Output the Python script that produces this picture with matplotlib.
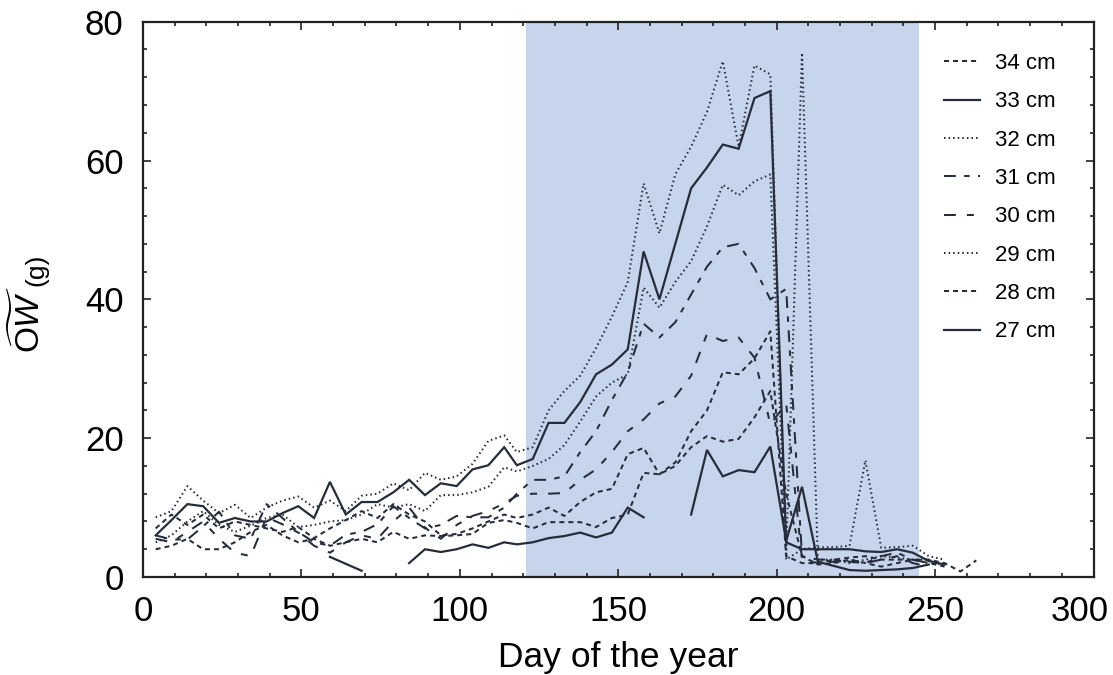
import numpy as np
import matplotlib
matplotlib.use("Agg")
import matplotlib.pyplot as plt
from matplotlib.ticker import MultipleLocator
from matplotlib.transforms import ScaledTranslation

nan = np.nan

# ---------------- data ----------------
days = [4, 9, 14, 19, 24, 29, 34, 39, 44, 49, 54, 59, 64, 69, 74, 79, 84, 89, 94, 99,
        104, 109, 114, 118, 123, 128, 133, 138, 143, 148, 153, 158, 163, 168, 173, 178,
        183, 188, 193, 198, 203, 208, 213, 218, 223, 228, 233, 238, 243, 248, 253, 258, 263]

ow_34 = [7.0, 9.0, 7.5, 9.0, 7.0, 8.0, 7.5, 7.0, 6.5, 7.2, 5.6, 7.0, 8.2, 9.5, 8.5, 10.5, 9.0, 8.0, 6.0, 6.2,
         7.0, 8.0, 9.0, 8.5, 9.0, 10.0, 8.8, 10.8, 12.2, 12.7, 17.7, 18.6, 14.8, 16.5, 21.0, 24.0,
         29.5, 29.2, 31.5, 35.4, 3.0, 2.0, 2.0, 2.5, 2.8, 3.0, 2.5, 2.5, 2.5, 2.5, 2.0, 0.8, 2.4]
ow_33 = [6.0, 8.2, 10.5, 10.2, 7.8, 8.5, 8.0, 8.0, 9.2, 10.2, 8.5, 13.7, 9.0, 10.8, 10.8, 12.2, 14.0, 11.8, 13.5, 13.1,
         15.5, 16.1, 18.7, 16.1, 17.0, 22.2, 22.2, 25.2, 29.2, 30.6, 32.8, 46.9, 40.0, 48.0, 56.0, 59.0,
         62.3, 61.7, 69.0, 70.0, 5.0, 4.0, 4.0, 4.0, 4.0, 3.7, 3.6, 4.0, 3.5, 2.3, 1.8, nan, nan]
ow_32 = [8.6, 9.5, 13.1, 11.0, 9.2, 10.4, 8.5, 10.0, 11.0, 11.6, 10.0, 11.0, 9.5, 11.7, 12.0, 13.5, 12.5, 15.0, 14.0, 14.5,
         16.3, 19.6, 20.4, 18.0, 18.7, 24.0, 26.8, 29.0, 33.0, 37.5, 42.5, 56.7, 49.5, 58.0, 62.0, 67.0,
         74.3, 62.0, 73.7, 72.4, 3.0, 75.5, 2.5, 2.5, 2.0, 2.5, 3.0, 2.8, 2.5, 2.5, 1.5, nan, nan]
ow_31 = [6.0, 5.4, 5.4, 7.3, 9.4, 6.0, 5.5, 10.5, 8.5, 6.5, 5.0, 4.5, 6.1, 6.5, 7.6, 10.2, 8.5, 7.0, 7.5, 8.8,
         8.6, 8.6, 10.0, 12.0, 14.0, 14.0, 14.5, 18.0, 21.0, 25.5, 29.5, 36.5, 34.5, 36.7, 40.7, 44.7,
         47.5, 48.0, 44.5, 40.0, 41.5, 3.0, 2.5, 2.5, 2.2, 2.0, 3.0, 3.5, 2.5, 2.0, 2.0, nan, nan]
ow_30 = [5.5, 5.0, 6.5, 8.0, 5.5, 3.5, 3.0, 8.6, 7.6, 6.4, 4.5, 3.5, 5.0, 6.0, 5.5, 8.0, 10.0, 7.1, 5.5, 7.5,
         8.8, 9.5, 10.6, 11.7, 12.0, 12.0, 12.1, 14.0, 15.5, 18.0, 21.0, 22.7, 25.0, 26.0, 29.0, 35.0,
         34.0, 34.5, 31.6, 22.0, 25.0, 2.5, 2.0, 2.2, 2.5, 2.0, 2.5, 3.0, 2.0, 1.5, nan, nan, nan]
ow_29 = [5.0, 6.0, 8.0, 9.5, 7.5, 6.5, 7.4, 8.5, 9.0, 7.2, 7.5, 8.0, 8.2, 9.0, 10.5, 10.0, 10.5, 9.5, 11.8, 11.8,
         12.2, 13.0, 15.8, 15.2, 16.0, 17.0, 19.0, 22.4, 26.0, 28.0, 29.2, 41.7, 38.8, 42.5, 45.5, 50.5,
         56.5, 55.0, 57.0, 58.0, 2.5, 4.0, 4.3, 4.3, 4.5, 16.8, 4.2, 4.3, 4.5, 3.0, 2.5, nan, nan]
ow_28 = [4.0, 4.5, 5.5, 4.0, 4.0, 5.0, 6.5, 7.5, 6.0, 5.0, 5.5, 4.5, 5.0, 5.5, 5.0, 6.5, 5.5, 6.0, 5.9, 6.0,
         6.2, 7.8, 8.2, 7.8, 7.0, 7.9, 7.9, 7.9, 7.2, 8.5, 9.0, 15.0, 14.8, 16.0, 18.7, 20.3,
         19.5, 19.9, 23.0, 26.8, 12.0, 3.0, 1.8, 2.0, 2.5, 2.0, 1.5, 2.0, 2.5, 2.0, 1.5, nan, nan]
ow_27 = [nan, nan, nan, nan, nan, nan, nan, nan, nan, nan, nan, 2.9, 1.9, 0.9, nan, nan, 2.0, 4.0, 3.6, 4.0,
         4.7, 4.2, 5.0, 4.7, 5.0, 5.6, 5.9, 6.4, 5.7, 6.4, 10.0, 8.6, nan, nan, 9.0, 18.3,
         14.5, 15.4, 15.1, 18.8, 5.2, 13.0, 2.2, 1.6, 1.0, 0.9, 1.0, 1.1, 1.3, 1.8, nan, nan, nan]

labels = ["34 cm", "33 cm", "32 cm", "31 cm", "30 cm", "29 cm", "28 cm", "27 cm"]
season_start, season_end = 121, 245
x_ticks = [0, 50, 100, 150, 200, 250, 300]
y_ticks = [0, 20, 40, 60, 80]

# ---------------- style ----------------
plt.rcParams["font.family"] = ["Liberation Sans", "DejaVu Sans"]
plt.rcParams["mathtext.fontset"] = "custom"
plt.rcParams["mathtext.rm"] = "Liberation Sans"
plt.rcParams["mathtext.it"] = "Liberation Sans:italic"
plt.rcParams["lines.scale_dashes"] = False

line_col = "#252c3a"
styles = {
    "34 cm": (0, (3.6, 2.9)),
    "33 cm": "-",
    "32 cm": (0, (1.1, 2.2)),
    "31 cm": (0, (8.5, 6.0, 4.0, 6.0)),
    "30 cm": (0, (8.5, 8.0, 5.0, 8.0)),
    "29 cm": (0, (1.1, 2.2)),
    "28 cm": (0, (3.6, 2.9)),
    "27 cm": "-",
}

series = [ow_34, ow_33, ow_32, ow_31, ow_30, ow_29, ow_28, ow_27]

fig = plt.figure(figsize=(11.13, 6.75), dpi=100)
ax = fig.add_axes([143 / 1113, 1 - 577 / 675, (1093.5 - 143) / 1113, (577 - 21.7) / 675])

ax.axvspan(season_start, season_end, color="#c6d4ec", lw=0, zorder=0)

for lab, vals in zip(labels, series):
    ls = styles[lab]
    lw = 1.6 if ls == "-" else 1.45
    ax.plot(days, vals, color=line_col, lw=lw, linestyle=ls, label=lab,
            dash_capstyle="butt", solid_joinstyle="miter", zorder=2)

ax.set_xlim(0, 300)
ax.set_ylim(0, 80)
ax.set_xticks(x_ticks)
ax.set_yticks(y_ticks)
ax.xaxis.set_minor_locator(MultipleLocator(10))
ax.yaxis.set_minor_locator(MultipleLocator(4))
ax.tick_params(which="both", direction="in", top=True, right=True, width=1.2, color="#222222")
ax.tick_params(which="major", length=5.5)
ax.tick_params(which="minor", length=3)
ax.tick_params(axis="x", which="major", labelsize=25, pad=13)
ax.tick_params(axis="y", which="major", labelsize=25, pad=14)
for sp in ax.spines.values():
    sp.set_linewidth(1.6)
    sp.set_color("#222222")

# shift the last x tick label left so it stays inside the figure (as in the reference)
last_lbl = ax.xaxis.get_major_ticks()[-1].label1
last_lbl.set_transform(last_lbl.get_transform() + ScaledTranslation(-0.14, 0, fig.dpi_scale_trans))

fig.text(618 / 1113, 1 - 657 / 675, "Day of the year", fontsize=25.5, ha="center", va="center")
fig.text(29 / 1113, 1 - 320 / 675, r"$\widetilde{\mathrm{O}W}$", fontsize=24, rotation=90,
         ha="center", va="center")
fig.text(36 / 1113, 1 - 270 / 675, "(g)", fontsize=19, rotation=90, ha="center", va="center")

leg = ax.legend(loc="upper left", bbox_to_anchor=(944 / 1113, 1 - 53 / 675),
                bbox_transform=fig.transFigure, frameon=False, fontsize=16,
                handlelength=1.6, handletextpad=0.7, labelspacing=0.78,
                borderpad=0, borderaxespad=0)

fig.savefig("out.png", dpi=100)
